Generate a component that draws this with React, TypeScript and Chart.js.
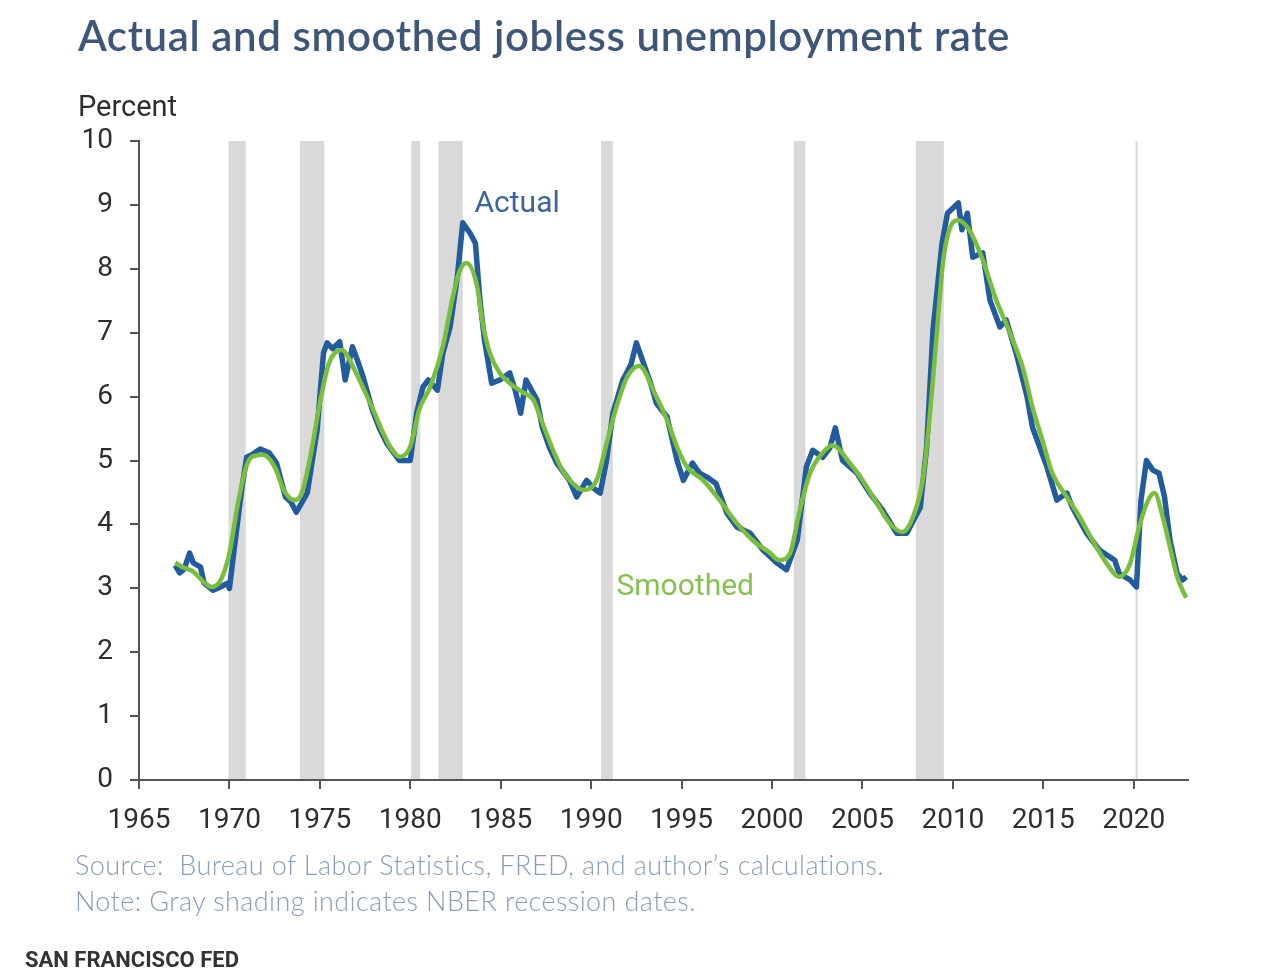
import React, { useEffect, useRef } from 'react';
import { Chart, registerables } from 'chart.js';

Chart.register(...registerables);

// ---- Data ----
const actualYears = [
  1967.0, 1967.25, 1967.5, 1967.8, 1968.0, 1968.4, 1968.6, 1969.1, 1969.5, 1969.9,
  1970.0, 1970.3, 1970.7, 1970.95, 1971.3, 1971.7, 1972.2, 1972.6, 1973.1, 1973.4,
  1973.7, 1974.3, 1974.85, 1975.2, 1975.4, 1975.7, 1976.1, 1976.4, 1976.8, 1977.1,
  1977.4, 1977.9, 1978.3, 1978.7, 1979.0, 1979.4, 1980.0, 1980.35, 1980.7, 1981.0,
  1981.5, 1981.8, 1982.2, 1982.6, 1982.9, 1983.3, 1983.6, 1983.85, 1984.1, 1984.5,
  1984.95, 1985.5, 1985.8, 1986.1, 1986.4, 1987.0, 1987.3, 1987.7, 1988.1, 1988.8,
  1989.2, 1989.75, 1990.2, 1990.5, 1990.85, 1991.2, 1991.75, 1992.2, 1992.5, 1992.9,
  1993.3, 1993.6, 1994.2, 1994.75, 1995.1, 1995.6, 1996.0, 1996.4, 1996.9, 1997.5,
  1998.05, 1998.8, 1999.5, 2000.3, 2000.8, 2001.4, 2001.9, 2002.25, 2002.8, 2003.2,
  2003.5, 2003.9, 2004.7, 2005.4, 2006.1, 2006.9, 2007.45, 2008.2, 2008.55, 2008.9,
  2009.4, 2009.7, 2010.3, 2010.5, 2010.8, 2011.1, 2011.65, 2012.05, 2012.6, 2012.95,
  2013.5, 2014.1, 2014.4, 2015.2, 2015.75, 2016.3, 2016.6, 2017.4, 2018.1, 2018.95,
  2019.2, 2019.8, 2020.15, 2020.4, 2020.7, 2021.05, 2021.4, 2021.7, 2022.0, 2022.4,
  2022.7, 2022.9,
];
const actualValues = [
  3.36, 3.24, 3.3, 3.55, 3.4, 3.33, 3.08, 2.97, 3.02, 3.08,
  3.0, 3.7, 4.59, 5.05, 5.1, 5.18, 5.12, 4.96, 4.43, 4.35,
  4.19, 4.49, 5.48, 6.68, 6.84, 6.75, 6.86, 6.26, 6.78, 6.55,
  6.3, 5.79, 5.5, 5.27, 5.15, 5.0, 5.0, 5.74, 6.15, 6.26,
  6.1, 6.68, 7.09, 7.87, 8.72, 8.56, 8.4, 7.51, 6.89, 6.21,
  6.26, 6.37, 6.1, 5.74, 6.26, 5.95, 5.52, 5.2, 4.96, 4.69,
  4.43, 4.69, 4.55, 4.49, 5.0, 5.74, 6.26, 6.5, 6.84, 6.52,
  6.2, 5.9, 5.68, 5.0, 4.69, 4.96, 4.8, 4.74, 4.64, 4.18,
  3.96, 3.86, 3.6, 3.39, 3.29, 3.76, 4.9, 5.16, 5.05, 5.2,
  5.51, 5.0, 4.8, 4.49, 4.23, 3.86, 3.86, 4.27, 5.21, 7.04,
  8.4, 8.87, 9.03, 8.61, 8.87, 8.18, 8.25, 7.51, 7.09, 7.2,
  6.68, 6.0, 5.52, 4.9, 4.38, 4.49, 4.27, 3.86, 3.6, 3.44,
  3.23, 3.13, 3.02, 4.38, 5.0, 4.85, 4.8, 4.43, 3.76, 3.23,
  3.13, 3.18,
];

const smoothedYears = [
  1967.0, 1967.5, 1968.0, 1968.5, 1969.0, 1969.5, 1970.0, 1970.5, 1971.0, 1971.5,
  1971.85, 1972.5, 1973.0, 1973.6, 1974.0, 1974.5, 1975.0, 1975.5, 1976.2, 1977.0,
  1977.5, 1978.0, 1978.5, 1979.0, 1979.4, 1980.0, 1980.5, 1981.1, 1981.8, 1982.35,
  1982.75, 1983.1, 1983.7, 1984.0, 1984.4, 1984.95, 1985.5, 1986.2, 1986.8, 1987.3,
  1987.9, 1988.4, 1989.2, 1989.55, 1990.3, 1990.9, 1991.4, 1992.0, 1992.65, 1993.6,
  1994.2, 1994.75, 1995.3, 1996.2, 1997.1, 1998.05, 1998.9, 1999.9, 2000.4, 2001.0,
  2001.5, 2002.1, 2002.8, 2003.35, 2004.3, 2005.0, 2005.8, 2006.5, 2007.2, 2007.8,
  2008.35, 2008.7, 2009.1, 2009.45, 2009.8, 2010.3, 2010.9, 2011.65, 2012.4, 2013.15,
  2013.9, 2014.4, 2015.0, 2015.5, 2016.3, 2017.0, 2017.7, 2018.5, 2019.2, 2019.8,
  2020.3, 2020.8, 2021.15, 2021.6, 2022.0, 2022.4, 2022.9,
];
const smoothedValues = [
  3.4, 3.32, 3.26, 3.12, 3.02, 3.12, 3.55, 4.38, 4.96, 5.08,
  5.09, 4.9, 4.54, 4.38, 4.49, 5.1, 5.9, 6.52, 6.73, 6.37,
  6.07, 5.76, 5.43, 5.16, 5.06, 5.22, 5.8, 6.15, 6.78, 7.56,
  7.98, 8.09, 7.72, 7.15, 6.68, 6.37, 6.21, 6.07, 5.95, 5.59,
  5.16, 4.85, 4.59, 4.54, 4.69, 5.32, 5.84, 6.31, 6.48, 6.0,
  5.63, 5.21, 4.9, 4.69, 4.38, 4.02, 3.76, 3.55, 3.44, 3.55,
  4.18, 4.8, 5.12, 5.24, 4.96, 4.69, 4.33, 4.02, 3.88, 4.12,
  4.72, 5.63, 6.95, 8.09, 8.61, 8.76, 8.61, 8.14, 7.51, 7.0,
  6.42, 5.84, 5.27, 4.8, 4.43, 4.12, 3.76, 3.39, 3.18, 3.39,
  3.96, 4.38, 4.49, 4.12, 3.65, 3.18, 2.85,
];

const recessionStarts = [1969.95, 1973.9, 1980.05, 1981.55, 1990.55, 2001.2, 2007.95, 2020.1];
const recessionEnds = [1970.9, 1975.25, 1980.55, 1982.9, 1991.2, 2001.85, 2009.5, 2020.22];

const xTickValues = [1965, 1970, 1975, 1980, 1985, 1990, 1995, 2000, 2005, 2010, 2015, 2020];
const yTickValues = [0, 1, 2, 3, 4, 5, 6, 7, 8, 9, 10];

const TITLE = 'Actual and smoothed jobless unemployment rate';
const Y_UNIT = 'Percent';
const SOURCE = 'Source:  Bureau of Labor Statistics, FRED, and author\u2019s calculations.';
const NOTE = 'Note: Gray shading indicates NBER recession dates.';
const BRAND = 'SAN FRANCISCO FED';

const ACTUAL_COLOR = '#225c9e';
const SMOOTH_COLOR = '#79bf3c';

const toPoints = (xs: number[], ys: number[]) => xs.map((x, i) => ({ x, y: ys[i] }));

const bandsPlugin = {
  id: 'recessionBands',
  beforeDatasetsDraw(chart: any) {
    const { ctx, chartArea, scales } = chart;
    const xs = scales.x;
    ctx.save();
    ctx.fillStyle = '#d9d9d9';
    recessionStarts.forEach((s, i) => {
      const x0 = xs.getPixelForValue(s);
      const x1 = xs.getPixelForValue(recessionEnds[i]);
      ctx.fillRect(x0, chartArea.top, Math.max(2, x1 - x0), chartArea.bottom - chartArea.top - 1);
    });
    ctx.restore();
  },
};

const labelsPlugin = {
  id: 'seriesLabels',
  afterDatasetsDraw(chart: any) {
    const { ctx, scales } = chart;
    ctx.save();
    ctx.font = '30px Roboto, "Noto Sans", sans-serif';
    ctx.textBaseline = 'middle';
    ctx.textAlign = 'left';
    ctx.fillStyle = '#3a649c';
    ctx.fillText('Actual', scales.x.getPixelForValue(1983.55), scales.y.getPixelForValue(9.0));
    ctx.fillStyle = '#88c152';
    ctx.fillText('Smoothed', scales.x.getPixelForValue(1991.4), scales.y.getPixelForValue(3.02));
    ctx.restore();
  },
};

export default function App() {
  const canvasRef = useRef<HTMLCanvasElement | null>(null);

  useEffect(() => {
    if (!canvasRef.current) return;
    const tickFont = { family: 'Roboto, "Noto Sans", sans-serif', size: 28 };
    const chart = new Chart(canvasRef.current, {
      type: 'line',
      data: {
        datasets: [
          {
            label: 'Smoothed',
            data: toPoints(smoothedYears, smoothedValues),
            borderColor: SMOOTH_COLOR,
            borderWidth: 4.5,
            pointRadius: 0,
            cubicInterpolationMode: 'monotone',
            fill: false,
          },
          {
            label: 'Actual',
            data: toPoints(actualYears, actualValues),
            borderColor: ACTUAL_COLOR,
            borderWidth: 5.5,
            pointRadius: 0,
            tension: 0,
            borderJoinStyle: 'round',
            fill: false,
          },
        ],
      },
      options: {
        animation: false,
        responsive: false,
        devicePixelRatio: 1,
        parsing: false,
        layout: { padding: { left: 0, right: 92, top: 141, bottom: 132 } },
        plugins: {
          legend: { display: false },
          tooltip: { enabled: false },
          title: { display: false },
        },
        scales: {
          x: {
            type: 'linear',
            min: 1965,
            max: 2023,
            afterBuildTicks: (scale: any) => {
              scale.ticks = xTickValues.map((v) => ({ value: v }));
            },
            afterFit: (scale: any) => {
              scale.height = 65;
            },
            ticks: {
              font: tickFont,
              color: '#2e2e2e',
              padding: 15,
              maxRotation: 0,
              autoSkip: false,
              callback: (v: any) => String(v),
            },
            grid: {
              drawOnChartArea: false,
              drawTicks: true,
              tickLength: 9,
              color: '#555555',
              lineWidth: 2,
            },
            border: { display: true, color: '#555555', width: 2 },
          },
          y: {
            type: 'linear',
            min: 0,
            max: 10,
            afterBuildTicks: (scale: any) => {
              scale.ticks = yTickValues.map((v) => ({ value: v }));
            },
            afterFit: (scale: any) => {
              scale.width = 139;
            },
            ticks: {
              font: tickFont,
              color: '#2e2e2e',
              padding: 17,
              callback: (v: any) => String(v),
            },
            grid: {
              drawOnChartArea: false,
              drawTicks: true,
              tickLength: 9,
              color: '#555555',
              lineWidth: 2,
            },
            border: { display: true, color: '#555555', width: 2 },
          },
        },
      },
      plugins: [bandsPlugin, labelsPlugin],
    } as any);
    return () => chart.destroy();
  }, []);

  return (
    <div
      style={{
        position: 'absolute',
        left: 0,
        top: 0,
        width: 1280,
        height: 977,
        background: '#ffffff',
        overflow: 'hidden',
      }}
    >
      <canvas ref={canvasRef} width={1280} height={977} style={{ position: 'absolute', left: 0, top: 0 }} />
      <div
        style={{
          position: 'absolute',
          left: 78,
          top: 10,
          fontFamily: 'Lato, "Noto Sans", sans-serif',
          fontWeight: 600,
          fontSize: 42,
          lineHeight: '50px',
          color: '#3e5677',
          whiteSpace: 'nowrap',
          letterSpacing: '0.6px',
        }}
      >
        {TITLE}
      </div>
      <div
        style={{
          position: 'absolute',
          left: 78,
          top: 88,
          fontFamily: 'Roboto, "Noto Sans", sans-serif',
          fontSize: 29,
          lineHeight: '36px',
          color: '#2e2e2e',
          whiteSpace: 'nowrap',
        }}
      >
        {Y_UNIT}
      </div>
      <div
        style={{
          position: 'absolute',
          left: 75,
          top: 847,
          fontFamily: 'Lato, "Noto Sans", sans-serif',
          fontWeight: 300,
          fontSize: 27,
          lineHeight: '36px',
          color: '#8b9db6',
          whiteSpace: 'pre',
          letterSpacing: '0.4px',
        }}
      >
        <div>{SOURCE}</div>
        <div>{NOTE}</div>
      </div>
      <div
        style={{
          position: 'absolute',
          left: 25,
          top: 945,
          fontFamily: 'Roboto, "Noto Sans", sans-serif',
          fontWeight: 700,
          fontSize: 22,
          lineHeight: '30px',
          color: '#333333',
          whiteSpace: 'nowrap',
          letterSpacing: '0px',
        }}
      >
        {BRAND}
      </div>
    </div>
  );
}
